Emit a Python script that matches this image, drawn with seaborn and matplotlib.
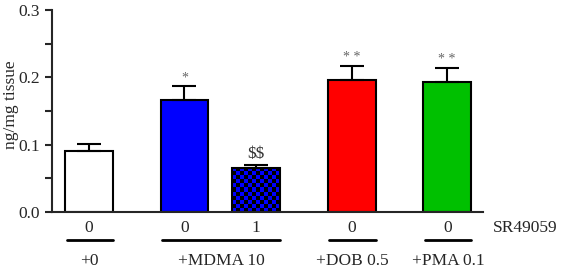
import matplotlib
matplotlib.use('Agg')
import matplotlib.pyplot as plt
import numpy as np
import pandas as pd
import seaborn as sns

# bar data
positions = [0.0, 2.0, 3.5, 5.5, 7.5]
means = [0.091, 0.166, 0.065, 0.196, 0.193]
sems = [0.010, 0.021, 0.005, 0.021, 0.021]
conds = ['ctrl', 'mdma', 'mdma_sr', 'dob', 'pma']
colors = ['#ffffff', '#0000ff', '#0000ff', '#ff0000', '#00c000']
sr_doses = ['0', '0', '1', '0', '0']
marks = ['', '*', '$$', '**', '**']

# treatment groups (indices of bars) and their labels
groups = [[0], [1, 2], [3], [4]]
group_labels = ['+0', '+MDMA 10', '+DOB 0.5', '+PMA 0.1']

df = pd.DataFrame({'pos': positions, 'mean': means, 'sem': sems, 'cond': conds})

sns.set_style('ticks')
plt.rcParams['font.family'] = ['Liberation Serif', 'DejaVu Serif']

fig = plt.figure(figsize=(5.61, 2.67), dpi=100)
ax = fig.add_axes([0.093, 0.206, 0.768, 0.757])

sns.barplot(data=df, x='pos', y='mean', hue='cond', palette=colors,
            native_scale=True, width=1 / 1.5, errorbar=None, legend=False,
            saturation=1, edgecolor='black', linewidth=1.5, ax=ax)

# upper error bars only
ax.errorbar(df['pos'], df['mean'], yerr=[np.zeros(len(df)), df['sem']],
            fmt='none', ecolor='black', elinewidth=1.5, capsize=8.5,
            capthick=1.5, zorder=1)

# checkered fill for the SR49059 bar
for p in ax.patches:
    cx = p.get_x() + p.get_width() / 2
    if abs(cx - positions[2]) < 0.1:
        cell_h = 0.006
        nrow = int(np.ceil(p.get_height() / cell_h))
        ncol = 12
        chk = (np.add.outer(np.arange(nrow), np.arange(ncol)) % 2)
        img = np.zeros((nrow, ncol, 3))
        img[chk == 0] = [0, 0, 1]
        ax.imshow(img, extent=[p.get_x(), p.get_x() + p.get_width(), 0, nrow * cell_h],
                  origin='lower', aspect='auto', interpolation='nearest', zorder=0.5,
                  clip_path=p, clip_on=True)
        p.set_facecolor('none')

# significance marks
for x, m, s, mk in zip(positions, means, sems, marks):
    if mk == '$$':
        ax.text(x, m + s + 0.004, r'\$\$', ha='center', va='bottom', fontsize=12.5, color='#333333')
    elif mk:
        ax.text(x, m + s + 0.002, ' '.join(mk), ha='center', va='bottom', fontsize=10, color='#666666')

ax.set_xlim(-0.77, 8.25)
ax.set_ylim(0, 0.3)
ax.set_yticks([0.0, 0.1, 0.2, 0.3])
ax.set_yticks([0.05, 0.15, 0.25], minor=True)
ax.set_yticklabels(['0.0', '0.1', '0.2', '0.3'], fontsize=12.5)
ax.tick_params(axis='y', which='both', width=1.5, length=5, direction='out')
ax.set_xticks([])
ax.set_xlabel('')
ax.set_ylabel('ng/mg tissue', fontsize=12.5)
ax.yaxis.set_label_coords(-0.077, 0.53)
for s in ['left', 'bottom']:
    ax.spines[s].set_linewidth(1.5)
sns.despine(ax=ax)

# table below the axis
trans = ax.get_xaxis_transform()
for x, d in zip(positions, sr_doses):
    ax.text(x, -0.08, d, transform=trans, ha='center', va='center', fontsize=12.5, clip_on=False)
ax.text(8.45, -0.08, 'SR49059', transform=trans, ha='left', va='center', fontsize=12.5, clip_on=False)

for g, lab in zip(groups, group_labels):
    x0 = positions[g[0]] - 0.47
    x1 = positions[g[-1]] + 0.5
    ax.plot([x0, x1], [-0.14, -0.14], transform=trans, color='black', lw=2, clip_on=False)
    ax.text((x0 + x1) / 2, -0.24, lab, transform=trans, ha='center', va='center',
            fontsize=12.5, clip_on=False)

fig.savefig('out.png', dpi=100)
